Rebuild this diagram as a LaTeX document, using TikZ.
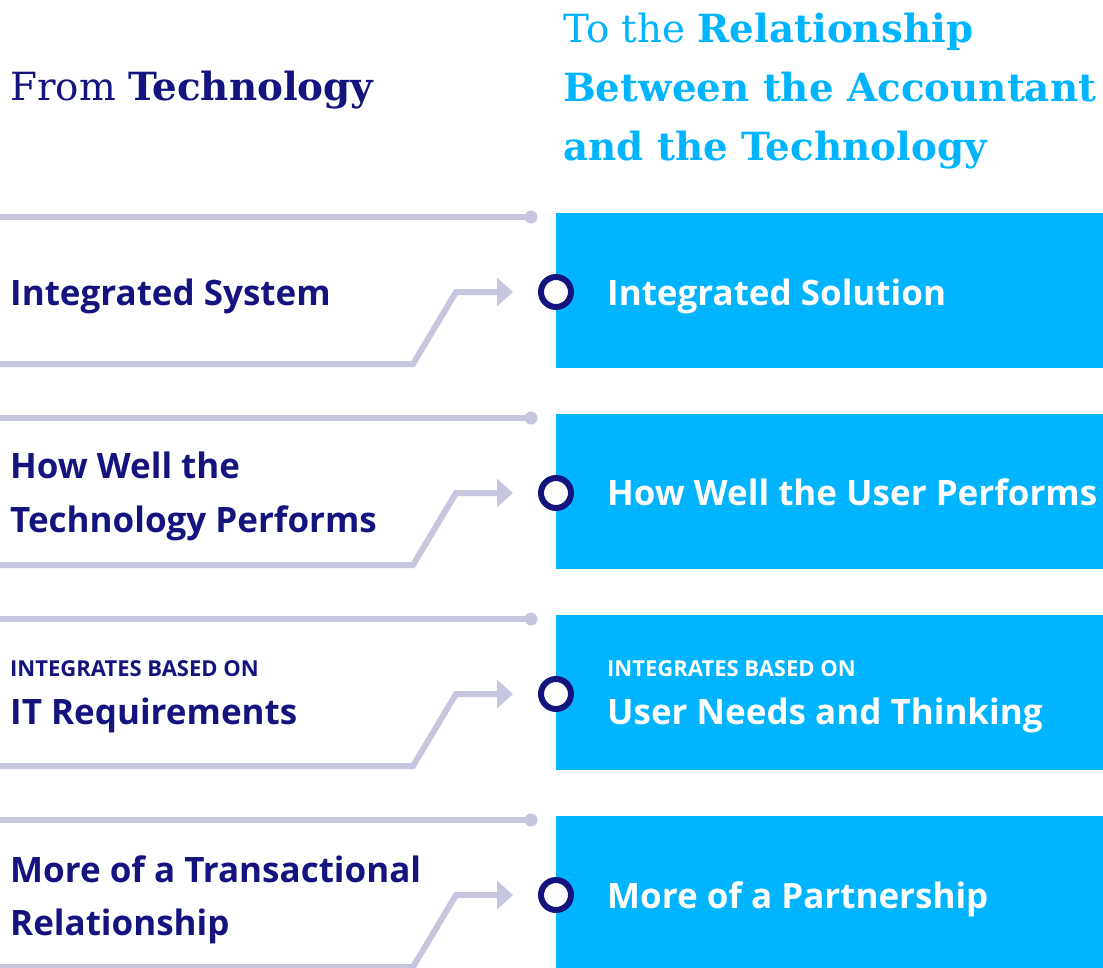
\documentclass[tikz,border=0pt]{standalone}
\usepackage{fontspec}
\setmainfont{Open Sans}
\newfontfamily\slabfont{DejaVu Serif}
\usetikzlibrary{arrows.meta}
\definecolor{navy}{HTML}{15137E}
\definecolor{cyanbox}{HTML}{00B4FF}
\definecolor{lineclr}{HTML}{C6C7DF}
\tikzset{
  lbl/.style={anchor=base west, inner sep=0pt, text=navy, font=\fontsize{35}{40}\selectfont\bfseries},
  small/.style={anchor=base west, inner sep=0pt, font=\fontsize{22}{24}\selectfont\bfseries},
  rlbl/.style={anchor=base west, inner sep=0pt, text=white, font=\fontsize{35}{40}\selectfont\bfseries},
  box/.style={anchor=north west, fill=cyanbox, draw=none, minimum width=547pt, minimum height=155pt, inner sep=0pt},
  ring/.style={circle, draw=navy, line width=6pt, fill=white, minimum size=30pt, inner sep=0pt},
  topline/.style={lineclr, line width=6pt},
  bentline/.style={lineclr, line width=6pt, -{Triangle[length=16pt,width=28pt]}},
  dot/.style={circle, fill=lineclr, minimum size=13pt, inner sep=0pt},
  head/.style={anchor=base west, inner sep=0pt, font=\fontsize{38.8}{40}\selectfont\slabfont},
}
\begin{document}
\begin{tikzpicture}[x=1pt,y=-1pt]
\useasboundingbox (0,0) rectangle (1103,967);
% headers
\node[head, text=navy] (hl) at (10,100) {From \textbf{Technology}};
\node[head, text=cyanbox] (hr1) at (563,42) {To the \textbf{Relationship}};
\node[head, text=cyanbox] (hr2) at (563,101) {\textbf{Between the Accountant}};
\node[head, text=cyanbox] (hr3) at (563,160) {\textbf{and the Technology}};

\foreach \i in {0,1,2,3} {
  \pgfmathsetmacro{\off}{201*\i}
  \coordinate (ts\i) at (0,217+\off);
  \node[dot] (td\i) at (531,217+\off) {};
  \draw[topline] (ts\i) -- (td\i.center);
  \node[box] (b\i) at (556,213+\off) {};
  \coordinate (bs\i) at (0,364+\off);
  \coordinate (tip\i) at (513,292+\off);
  \draw[bentline] (bs\i) -- (413,364+\off) -- (456,292+\off) -- (tip\i);
  \node[ring] (r\i) at (556,292+\off) {};
}
\fill[cyanbox] (556,967-4) rectangle (1103,967);

% row 1
\node[lbl] (l1) at (10,305) {Integrated System};
\node[rlbl] (rt1) at (607,305) {Integrated Solution};
% row 2
\node[lbl] (l2a) at (10,478) {How Well the};
\node[lbl] (l2b) at (10,532) {Technology Performs};
\node[rlbl] (rt2) at (607,505) {How Well the User Performs};
% row 3
\node[small, text=navy] (l3a) at (10,676) {INTEGRATES BASED ON};
\node[lbl] (l3b) at (10,724) {IT Requirements};
\node[small, text=white] (rt3a) at (607,676) {INTEGRATES BASED ON};
\node[rlbl] (rt3b) at (607,724) {User Needs and Thinking};
% row 4
\node[lbl] (l4a) at (10,882) {More of a Transactional};
\node[lbl] (l4b) at (10,935) {Relationship};
\node[rlbl] (rt4) at (607,908) {More of a Partnership};
\end{tikzpicture}
\end{document}
